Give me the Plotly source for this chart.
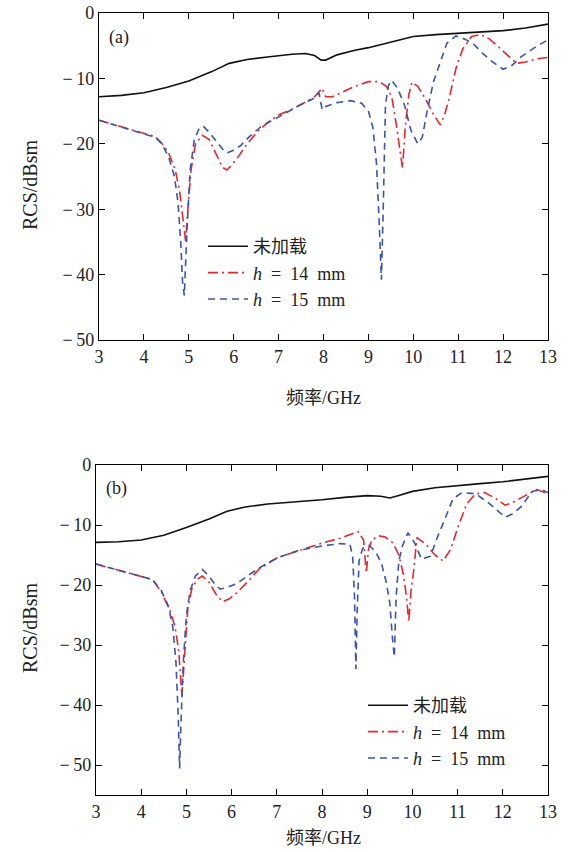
import plotly.graph_objects as go

# ---------------- data: panel (a) ----------------
a_black_f = [3, 3.5, 4, 4.5, 5, 5.5, 5.9, 6.3, 6.8, 7.3, 7.6, 7.8, 7.95, 8.05, 8.3, 8.7, 9.0, 9.5, 10, 10.5, 11, 11.5, 12, 12.5, 13]
a_black_v = [-12.8, -12.6, -12.2, -11.4, -10.4, -9.0, -7.7, -7.1, -6.7, -6.3, -6.2, -6.5, -7.2, -7.2, -6.4, -5.7, -5.3, -4.4, -3.6, -3.3, -3.1, -2.9, -2.7, -2.3, -1.7]

a_red_f = [3, 3.5, 4, 4.25, 4.4, 4.55, 4.7, 4.8, 4.88, 4.93, 4.98, 5.05, 5.15, 5.3, 5.45, 5.6, 5.75, 5.85, 5.95, 6.1, 6.3, 6.55, 6.8, 7.0, 7.3, 7.55, 7.8, 7.97, 8.05, 8.2, 8.4, 8.7, 9.0, 9.25, 9.4, 9.52, 9.62, 9.7, 9.76, 9.82, 9.9, 9.97, 10.1, 10.3, 10.45, 10.6, 10.7, 10.8, 10.95, 11.1, 11.3, 11.5, 11.7, 11.9, 12.1, 12.3, 12.5, 12.75, 13]
a_red_v = [-16.4, -17.4, -18.3, -18.9, -19.9, -21.4, -24.0, -27.5, -32, -35, -30, -24, -20, -18.7, -19.3, -21.5, -23.6, -24, -23.3, -22, -20, -18, -16.5, -15.6, -14.7, -13.8, -12.8, -11.5, -12.8, -12.8, -12.2, -11.2, -10.5, -10.5, -11.2, -12.8, -17, -21, -23.7, -17.5, -12.5, -10.6, -11.2, -13.5, -15.5, -17.1, -15.5, -13, -8.5, -5.5, -3.6, -3.3, -4.0, -5.2, -6.4, -7.7, -7.5, -7.0, -6.8]

a_blue_f = [3, 3.5, 4, 4.25, 4.4, 4.55, 4.68, 4.76, 4.82, 4.86, 4.9, 4.96, 5.03, 5.12, 5.22, 5.32, 5.45, 5.6, 5.75, 5.85, 6.0, 6.15, 6.35, 6.6, 7.0, 7.5, 7.75, 7.9, 7.97, 8.05, 8.3, 8.6, 8.85, 9.0, 9.1, 9.18, 9.24, 9.29, 9.33, 9.38, 9.45, 9.52, 9.65, 9.8, 9.95, 10.1, 10.2, 10.3, 10.45, 10.6, 10.75, 10.95, 11.15, 11.35, 11.55, 11.75, 12.0, 12.2, 12.4, 12.7, 13]
a_blue_v = [-16.4, -17.4, -18.5, -19.0, -20, -22, -25, -29, -35, -41, -43.2, -33, -24, -19.5, -17.8, -17.3, -18.2, -19.5, -20.8, -21.4, -21.0, -20.3, -18.9, -17.4, -15.9, -14.0, -13.2, -12.2, -14.8, -14.3, -13.7, -13.4, -13.8, -15, -17.5, -23, -32, -40.8, -30, -14, -11.0, -10.3, -11.5, -14, -18, -20, -19, -15.3, -10.5, -7.5, -4.6, -3.5, -4.0, -4.8, -6.2, -7.4, -8.6, -8.0, -6.7, -5.3, -4.1]

# ---------------- data: panel (b) ----------------
b_black_f = [3, 3.5, 4, 4.5, 5, 5.5, 5.9, 6.3, 6.8, 7.5, 8, 8.5, 9.0, 9.3, 9.5, 9.7, 10, 10.5, 11, 11.5, 12, 12.5, 13]
b_black_v = [-12.9, -12.8, -12.5, -11.7, -10.4, -9.0, -7.7, -7.0, -6.5, -6.1, -5.8, -5.4, -5.1, -5.2, -5.5, -5.1, -4.4, -3.8, -3.4, -3.1, -2.8, -2.4, -1.9]

b_red_f = [3, 3.5, 4, 4.25, 4.45, 4.65, 4.75, 4.83, 4.9, 4.96, 5.03, 5.12, 5.25, 5.35, 5.5, 5.65, 5.8, 5.95, 6.1, 6.35, 6.6, 7.0, 7.5, 8.0, 8.4, 8.8, 8.92, 8.98, 9.03, 9.1, 9.25, 9.4, 9.57, 9.7, 9.8, 9.87, 9.92, 9.97, 10.03, 10.1, 10.3, 10.5, 10.68, 10.85, 11.0, 11.2, 11.4, 11.6, 11.85, 12.05, 12.2, 12.4, 12.6, 12.75, 13]
b_red_v = [-16.5, -17.5, -18.5, -19.1, -21.2, -24.5, -27, -31, -38.5, -32, -24, -20.6, -19, -18.5, -19.5, -21.5, -22.8, -22.3, -21.4, -19.5, -17.4, -15.5, -14.3, -13.0, -12.2, -11.1, -12.5, -18, -14, -12.5, -11.8, -12, -13, -15, -18.2, -22, -26.1, -21, -17.5, -12.1, -13.2, -15, -16, -14, -10.5, -6.5, -4.8, -4.6, -5.6, -6.7, -6.3, -5.5, -4.6, -4.1, -4.8]

b_blue_f = [3, 3.5, 4, 4.25, 4.45, 4.6, 4.7, 4.77, 4.82, 4.85, 4.88, 4.93, 5.0, 5.08, 5.2, 5.35, 5.5, 5.62, 5.75, 5.9, 6.1, 6.35, 6.6, 7.0, 7.5, 8.0, 8.4, 8.62, 8.68, 8.72, 8.75, 8.78, 8.82, 8.9, 9.05, 9.2, 9.32, 9.42, 9.5, 9.56, 9.6, 9.64, 9.7, 9.78, 9.9, 10.05, 10.2, 10.4, 10.55, 10.72, 10.9, 11.1, 11.4, 11.7, 11.9, 12.05, 12.2, 12.4, 12.65, 12.85, 13]
b_blue_v = [-16.5, -17.5, -18.5, -19.1, -21, -23.5, -27, -33, -42, -50.6, -43, -33, -25, -21, -18.5, -17.4, -18.5, -19.8, -20.7, -20.4, -19.8, -18.5, -17.2, -15.5, -14.2, -13.5, -13.1, -13.2, -15.5, -22, -34, -24, -16, -13.9, -13.4, -14.6, -16.5, -19.5, -23, -29, -32, -22, -16, -13.5, -11.3, -13, -15.7, -15.2, -12.1, -9, -5.6, -4.6, -4.8, -6.4, -7.8, -8.7, -8.2, -7, -4.4, -4.1, -4.6]

series_names = ["未加载", "<i>h</i>\u2002=\u200214\u2002mm", "<i>h</i>\u2002=\u200215\u2002mm"]
x_ticks = [3, 4, 5, 6, 7, 8, 9, 10, 11, 12, 13]
y_ticks = [0, -10, -20, -30, -40, -50]
y_ticktext = ["0", "\u2212\u200910", "\u2212\u200920", "\u2212\u200930", "\u2212\u200940", "\u2212\u200950"]
x_title = "频率/GHz"
y_title = "RCS/dBsm"
panel_labels = ["(a)", "(b)"]

# ---------------- styling ----------------
FONT = "Liberation Serif, 'Noto Sans CJK SC', serif"
TXT = "#222222"
BLACK = "#111111"
RED = "#e8262e"
BLUE = "#3b55a8"
styles = [
    dict(color=BLACK, width=1.6, dash="solid"),
    dict(color=RED, width=1.6, dash="10px,4px,2px,4px"),
    dict(color=BLUE, width=1.6, dash="7px,5px"),
]

fig = go.Figure()
panels = [
    ("x", "y", "legend", [(a_black_f, a_black_v), (a_red_f, a_red_v), (a_blue_f, a_blue_v)]),
    ("x2", "y2", "legend2", [(b_black_f, b_black_v), (b_red_f, b_red_v), (b_blue_f, b_blue_v)]),
]
for xa, ya, lg, data in panels:
    for i, ((f, v), name, st) in enumerate(zip(data, series_names, styles)):
        fig.add_trace(go.Scatter(x=f, y=v, mode="lines", name=name, line=st,
                                 xaxis=xa, yaxis=ya, legend=lg))

W, H = 572, 852
L, R, T, B = 96, 24, 13, 57
PW = W - L - R
ph = H - T - B
top_dom = [(795 - 340) / ph, 1.0]
bot_dom = [0.0, (795 - 465) / ph]

axis_common = dict(showline=True, linecolor="black", linewidth=1.3, mirror="ticks",
                   ticks="inside", ticklen=6, tickcolor="black", tickwidth=1,
                   showgrid=False, zeroline=False, automargin=False,
                   tickfont=dict(family=FONT, size=18, color=TXT))

fig.update_layout(
    width=W, height=H,
    margin=dict(l=L, r=R, t=T, b=B, pad=0, autoexpand=False),
    paper_bgcolor="white", plot_bgcolor="white",
    font=dict(family=FONT, size=17, color=TXT),
    xaxis=dict(domain=[3 / PW, 1.0], range=[3, 13], tickvals=x_ticks, anchor="y", **axis_common),
    yaxis=dict(domain=top_dom, range=[-50, 0], tickvals=y_ticks, ticktext=y_ticktext, anchor="x", **axis_common),
    xaxis2=dict(domain=[0, 1.0], range=[3, 13], tickvals=x_ticks, anchor="y2", **axis_common),
    yaxis2=dict(domain=bot_dom, range=[-55, 0], tickvals=y_ticks, ticktext=y_ticktext, anchor="x2", **axis_common),
    legend=dict(x=(203 - L) / PW, y=(795 - 228) / ph, xanchor="left", yanchor="top",
                itemwidth=40,
                bgcolor="rgba(0,0,0,0)", font=dict(family=FONT, size=18, color=TXT)),
    legend2=dict(x=(363 - L) / PW, y=(795 - 687) / ph, xanchor="left", yanchor="top",
                 itemwidth=40,
                 bgcolor="rgba(0,0,0,0)", font=dict(family=FONT, size=18, color=TXT)),
    showlegend=True,
)

ann = []
ann.append(dict(text=panel_labels[0], x=3.18, y=-3.7, xref="x", yref="y", showarrow=False,
                xanchor="left", yanchor="middle", font=dict(family=FONT, size=18, color=TXT)))
ann.append(dict(text=panel_labels[1], x=3.18, y=-3.9, xref="x2", yref="y2", showarrow=False,
                xanchor="left", yanchor="middle", font=dict(family=FONT, size=18, color=TXT)))
for yc, xc in [(398, 323), (838, 323)]:
    ann.append(dict(text=x_title, x=(xc - L) / PW, y=(H - B - yc) / ph, xref="paper", yref="paper",
                    xanchor="center", yanchor="middle",
                    showarrow=False, font=dict(family=FONT, size=18, color=TXT)))
for yc in [185, 628]:
    ann.append(dict(text=y_title, x=(30 - L) / PW, y=(H - B - yc) / ph, xref="paper", yref="paper",
                    xanchor="center", yanchor="middle",
                    showarrow=False, textangle=-90, font=dict(family=FONT, size=20, color=TXT)))
fig.update_layout(annotations=ann)

fig.write_html("out.html", config={"displayModeBar": False},
               post_script="document.body.style.margin='0';")
